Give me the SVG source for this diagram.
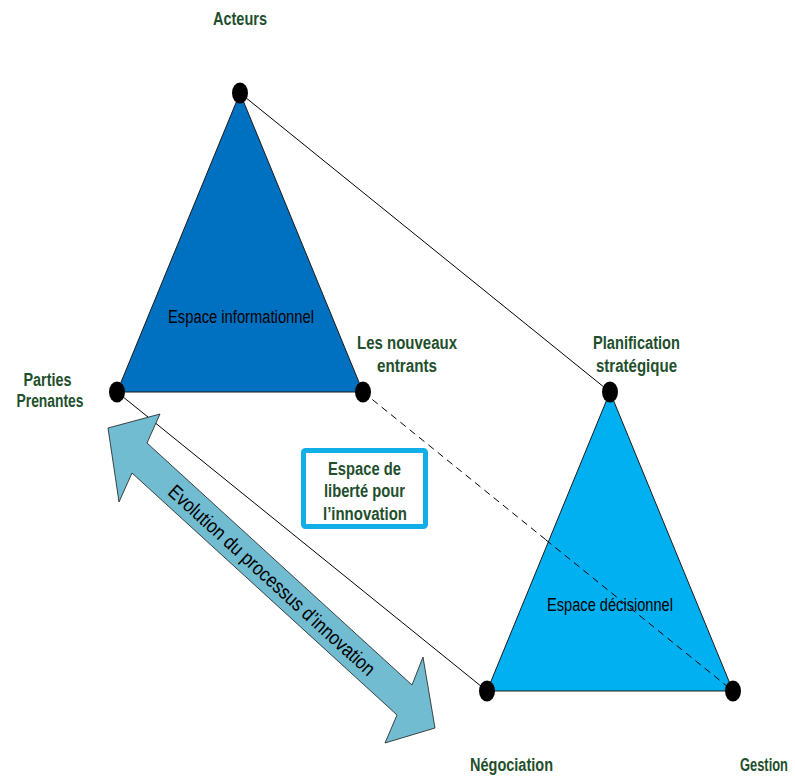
<svg xmlns="http://www.w3.org/2000/svg" width="795" height="776" viewBox="0 0 795 776">
<style>
.lbl{font-family:"Liberation Sans",Arial,sans-serif;font-weight:bold;font-size:18px;fill:#1F4F2D;text-anchor:middle}
.inner{font-family:"Liberation Sans",Arial,sans-serif;font-size:18px;fill:#000;text-anchor:middle}
.dot{fill:#000}
.tri{stroke:#1a1a1a;stroke-width:1}
.conn{stroke:#000;stroke-width:1;fill:none}
</style>
<rect width="795" height="776" fill="#fff"/>
<g id="connectors">
<line class="conn" x1="240" y1="93" x2="610" y2="392"/>
<line class="conn" x1="117" y1="392" x2="487" y2="691"/>
<line class="conn" x1="363" y1="392" x2="733" y2="691" stroke-dasharray="7,5"/>
</g>
<g id="espace-informationnel">
<polygon class="tri" points="240,93 117,392 363,392" fill="#0070C0"/>
<text class="inner" x="241" y="323" textLength="146" lengthAdjust="spacingAndGlyphs">Espace informationnel</text>
</g>
<g id="espace-decisionnel">
<polygon class="tri" points="610,392 487,691 733,691" fill="#00B0F0"/>
<text class="inner" x="610" y="611" textLength="126" lengthAdjust="spacingAndGlyphs">Espace décisionnel</text>
</g>
<g id="dashed-over">
<line class="conn" x1="546" y1="540" x2="733" y2="691" stroke-dasharray="7,5"/>
</g>
<g id="evolution-arrow">
<polygon points="108,428 160,414 147,443 412,685 423,657 435,728 385,743 397,715 132,473 119,502" fill="#71BCD1" stroke="#1a1a1a" stroke-width="0.8"/>
<text class="inner" style="font-size:20px" transform="translate(272,580) rotate(42.4)" y="7" textLength="272" lengthAdjust="spacingAndGlyphs">Evolution du processus d’innovation</text>
</g>
<g id="espace-liberte">
<rect x="303.5" y="450.5" width="122" height="76" rx="2" fill="#fff" stroke="#12AEE8" stroke-width="5"/>
<text class="lbl" x="364.5" y="475" textLength="73" lengthAdjust="spacingAndGlyphs">Espace de</text>
<text class="lbl" x="364.5" y="497" textLength="81" lengthAdjust="spacingAndGlyphs">liberté pour</text>
<text class="lbl" x="365" y="520" textLength="84" lengthAdjust="spacingAndGlyphs">l’innovation</text>
</g>
<g id="node-acteurs">
<ellipse class="dot" cx="240" cy="93" rx="8" ry="10.5"/>
<text class="lbl" x="240" y="25" textLength="54" lengthAdjust="spacingAndGlyphs">Acteurs</text>
</g>
<g id="node-parties-prenantes">
<ellipse class="dot" cx="117" cy="392" rx="8" ry="10.5"/>
<text class="lbl" x="47.5" y="386" textLength="48" lengthAdjust="spacingAndGlyphs">Parties</text>
<text class="lbl" x="50" y="407" textLength="67" lengthAdjust="spacingAndGlyphs">Prenantes</text>
</g>
<g id="node-nouveaux-entrants">
<ellipse class="dot" cx="363" cy="392" rx="8" ry="10.5"/>
<text class="lbl" x="407" y="349" textLength="100" lengthAdjust="spacingAndGlyphs">Les nouveaux</text>
<text class="lbl" x="407" y="372" textLength="60" lengthAdjust="spacingAndGlyphs">entrants</text>
</g>
<g id="node-planification">
<ellipse class="dot" cx="610" cy="392" rx="8" ry="10.5"/>
<text class="lbl" x="636.5" y="349" textLength="87" lengthAdjust="spacingAndGlyphs">Planification</text>
<text class="lbl" x="636.5" y="372" textLength="81" lengthAdjust="spacingAndGlyphs">stratégique</text>
</g>
<g id="node-negociation">
<ellipse class="dot" cx="487" cy="691" rx="8" ry="10.5"/>
<text class="lbl" x="511.5" y="771" textLength="83" lengthAdjust="spacingAndGlyphs">Négociation</text>
</g>
<g id="node-gestion">
<ellipse class="dot" cx="733" cy="691" rx="8" ry="10.5"/>
<text class="lbl" x="764" y="771" textLength="48" lengthAdjust="spacingAndGlyphs">Gestion</text>
</g>
</svg>
